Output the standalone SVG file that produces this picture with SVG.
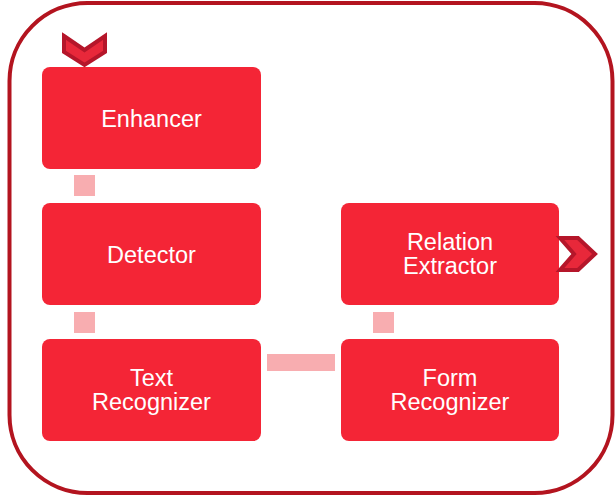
<svg xmlns="http://www.w3.org/2000/svg" width="616" height="497" viewBox="0 0 616 497">
<style>
.node{fill:#F42536}
.lbl{fill:#FFFFFF;font-family:"Liberation Sans",Arial,sans-serif;font-size:23.5px;text-anchor:middle}
.conn{fill:#F8ADB0}
.chev{fill:#E8283A;stroke:#B5162A;stroke-width:4;stroke-linejoin:miter}
</style>
<rect x="9.5" y="3" width="603" height="490" rx="78" ry="78" fill="#FFFFFF" stroke="#B3141F" stroke-width="4"/>
<g id="connectors">
<rect class="conn" x="74" y="175" width="21" height="21"/>
<rect class="conn" x="74" y="312" width="21" height="21"/>
<rect class="conn" x="267" y="354" width="68" height="17"/>
<rect class="conn" x="373" y="312" width="21" height="21"/>
</g>
<g id="enhancer">
<rect class="node" x="42" y="67" width="219" height="102" rx="8"/>
<text class="lbl" x="151.5" y="127">Enhancer</text>
</g>
<g id="detector">
<rect class="node" x="42" y="203" width="219" height="102" rx="8"/>
<text class="lbl" x="151.5" y="263">Detector</text>
</g>
<g id="text-recognizer">
<rect class="node" x="42" y="339" width="219" height="102" rx="8"/>
<text class="lbl" x="151.5" y="386">Text</text>
<text class="lbl" x="151.5" y="410">Recognizer</text>
</g>
<g id="relation-extractor">
<rect class="node" x="341" y="203" width="218" height="102" rx="8"/>
<text class="lbl" x="450" y="250">Relation</text>
<text class="lbl" x="450" y="274">Extractor</text>
</g>
<g id="form-recognizer">
<rect class="node" x="341" y="339" width="218" height="102" rx="8"/>
<text class="lbl" x="450" y="386">Form</text>
<text class="lbl" x="450" y="410">Recognizer</text>
</g>
<g id="start-chevron">
<polygon class="chev" points="64,36 84.5,50 105,36 105,52 84.5,65 64,52"/>
</g>
<g id="end-chevron">
<polygon class="chev" points="560,238 578,238 595,254 578,270 560,270 574,254"/>
</g>
</svg>
